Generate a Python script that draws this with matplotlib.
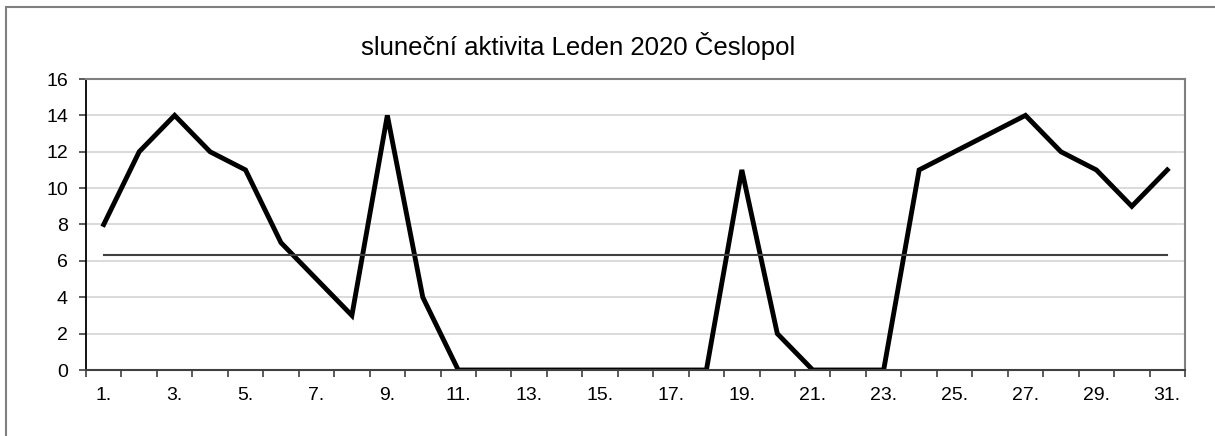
import matplotlib.pyplot as plt
import numpy as np
from matplotlib.patches import Rectangle

plt.rcParams['font.family'] = ['Liberation Sans', 'DejaVu Sans']

days = list(range(1, 32))
activity = [8, 12, 14, 12, 11, 7, 5, 3, 14, 4, 0, 0, 0, 0, 0, 0, 0, 0,
            11, 2, 0, 0, 0, 11, 12, 13, 14, 12, 11, 9, 11]
day_labels = ['{}.'.format(d) for d in days]
title = 'sluneční aktivita Leden 2020 Česlopol'

W, H = 1215, 436
fig = plt.figure(figsize=(W / 100, H / 100), dpi=100)
# outer chart border (cropped at right and bottom)
fig.patches.append(Rectangle((6 / W, -0.1), 1.2, 1 - 7 / H + 0.1, transform=fig.transFigure,
                             fill=False, edgecolor='#808080', linewidth=1.5))

ax = fig.add_axes([86 / W, 1 - 370 / H, (1185 - 86) / W, (370 - 79) / H])

ax.plot(days, activity, color='black', linewidth=3.5, solid_joinstyle='miter')
mean = np.mean(activity)
ax.plot([days[0], days[-1]], [mean, mean], color='#404040', linewidth=1.5)

ax.set_xlim(0.5, 31.5)
ax.set_ylim(0, 16)
ax.set_yticks(range(0, 17, 2))
ax.yaxis.grid(True, color='#d4d4d4', linewidth=1.2)
ax.set_axisbelow(True)

ax.set_xticks(days[::2])
ax.set_xticklabels(day_labels[::2], fontsize=14)
ax.set_xticks(np.arange(0.5, 32, 1), minor=True)
ax.tick_params(axis='x', which='major', length=0, pad=12)
ax.tick_params(axis='x', which='minor', length=5, width=1.2, color='#404040')
ax.tick_params(axis='y', length=5, width=1.2, color='#404040', pad=8)
for lbl in ax.get_yticklabels():
    lbl.set_fontsize(14)

for s in ['top', 'right']:
    ax.spines[s].set_color('#808080')
    ax.spines[s].set_linewidth(1.5)
ax.spines['left'].set_color('black')
ax.spines['left'].set_linewidth(1.3)
ax.spines['bottom'].set_color('#404040')
ax.spines['bottom'].set_linewidth(1.5)

fig.text(578 / W, 1 - 46 / H, title, ha='center', va='center', fontsize=18.5)

plt.savefig('out.png', dpi=100)
